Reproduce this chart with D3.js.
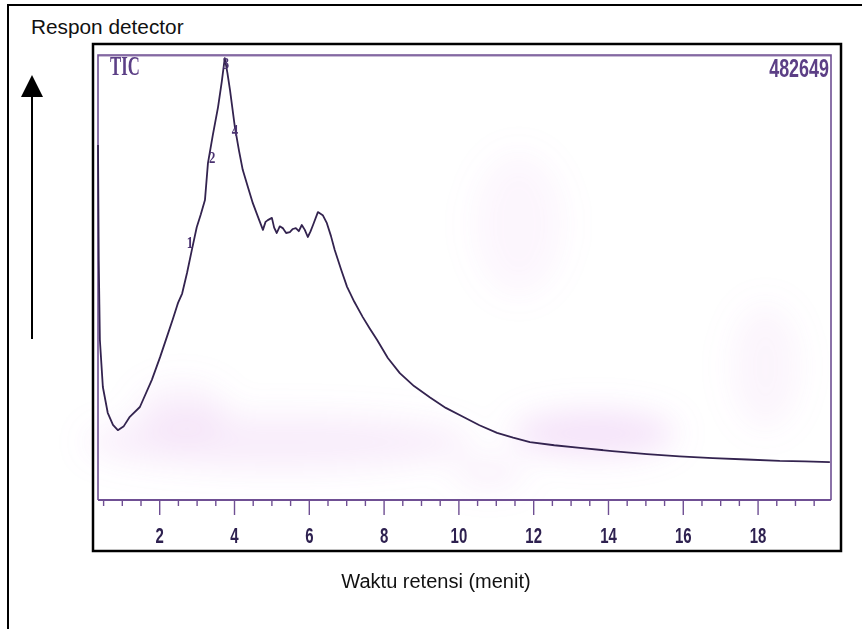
<!DOCTYPE html>
<html>
<head>
<meta charset="utf-8">
<script src="https://cdn.jsdelivr.net/npm/d3@7"></script>
<style>
  html, body { margin: 0; padding: 0; background: #fff; }
  svg { display: block; }
</style>
</head>
<body>
<div id="chart"></div>
<script>
// retention time (minutes) and detector response (% of full scale)
const times = [0.35, 0.37, 0.40, 0.48, 0.61, 0.75, 0.88, 1.04, 1.20, 1.47, 1.79, 2.01, 2.19, 2.35,
    2.49, 2.60, 2.73, 2.86, 2.99, 3.10, 3.21, 3.29, 3.42, 3.56, 3.66, 3.74, 3.81, 3.88, 4.01, 4.12,
    4.22, 4.36, 4.49, 4.62, 4.76, 4.83, 4.89, 5.00, 5.06, 5.13, 5.21, 5.29, 5.38, 5.48, 5.56, 5.64,
    5.72, 5.80, 5.88, 5.96, 6.03, 6.10, 6.23, 6.36, 6.47, 6.58, 6.68, 6.85, 7.01, 7.20, 7.43, 7.62,
    7.81, 8.10, 8.42, 8.80, 9.22, 9.65, 10.11, 10.55, 11.02, 11.45, 11.90, 12.55, 13.24, 14.10,
    15.03, 15.90, 16.79, 17.70, 18.58, 19.25, 19.92];
const response = [79.8, 53.9, 36.0, 25.4, 19.6, 16.9, 15.7, 16.6, 18.7, 20.9, 27.0, 32.1, 36.6, 40.6,
    44.3, 46.4, 51.0, 56.2, 61.3, 64.2, 67.4, 75.7, 82.0, 88.3, 94.0, 99.3, 96.0, 92.1, 83.8, 78.5,
    74.2, 70.3, 66.7, 63.8, 60.7, 62.5, 62.9, 63.4, 61.2, 60.0, 61.5, 61.1, 60.0, 60.2, 60.9, 61.1,
    60.4, 61.8, 60.7, 59.1, 60.3, 61.8, 64.7, 64.0, 62.2, 59.3, 56.2, 51.8, 47.9, 44.6, 41.1, 38.5,
    36.0, 31.9, 28.5, 25.6, 23.1, 20.7, 18.7, 16.8, 15.1, 14.0, 13.0, 12.3, 11.7, 11.0,
    10.3, 9.8, 9.4, 9.1, 8.8, 8.7, 8.5];

// numbered peaks written on the trace
const peakNames = ['1', '2', '3', '4'];
const peakTimes = [2.81, 3.40, 3.77, 4.01];
const peakResponse = [57.8, 77.1, 98.2, 83.1];

const tickMinor = d3.range(0.5, 20, 0.5);
const tickMajor = [2, 4, 6, 8, 10, 12, 14, 16, 18];

// faint scan stains on the paper (time, response, half width, half height, opacity)
const stainTimes = [5.2, 13.6, 11.6, 18.2, 2.6, 10.8];
const stainResponse = [13, 15, 62, 30, 20, 6];
const stainWidth = [5.2, 2.2, 1.2, 0.9, 1.2, 1.0];
const stainHeight = [6, 5, 16, 14, 6, 3];
const stainOpacity = [0.16, 0.26, 0.08, 0.1, 0.14, 0.14];

const width = 862;
const height = 629;

const svg = d3.select('#chart')
    .append('svg')
    .attr('width', width)
    .attr('height', height);

const x = d3.scaleLinear().domain([0.35, 19.95]).range([98, 831]);
const y = d3.scaleLinear().domain([0, 100]).range([500, 55]);

const defs = svg.append('defs');
defs.append('filter')
    .attr('id', 'blur')
    .attr('x', '-50%').attr('y', '-50%')
    .attr('width', '200%').attr('height', '200%')
    .append('feGaussianBlur')
    .attr('stdDeviation', 16);

// outer frame (top and left only)
svg.append('path')
    .attr('d', `M8,${height}V5H${width}`)
    .attr('fill', 'none')
    .attr('stroke', '#000')
    .attr('stroke-width', 2);

svg.append('text')
    .attr('x', 31)
    .attr('y', 34)
    .attr('font-family', 'Liberation Sans, Arial, sans-serif')
    .attr('font-size', 20.8)
    .attr('fill', '#111')
    .text('Respon detector');

// vertical arrow
svg.append('line')
    .attr('x1', 32).attr('x2', 32)
    .attr('y1', 339).attr('y2', 95)
    .attr('stroke', '#000')
    .attr('stroke-width', 2);
svg.append('path')
    .attr('d', 'M32,75L43,97L21,97Z')
    .attr('fill', '#000');

// stains
svg.append('g')
    .attr('filter', 'url(#blur)')
    .selectAll('ellipse')
    .data(stainTimes.map((t, i) => ({ t, v: stainResponse[i], w: stainWidth[i], h: stainHeight[i], o: stainOpacity[i] })))
    .join('ellipse')
    .attr('cx', d => x(d.t))
    .attr('cy', d => y(d.v))
    .attr('rx', d => x(d.t + d.w) - x(d.t))
    .attr('ry', d => y(0) - y(d.h))
    .attr('fill', '#d58fe6')
    .attr('opacity', d => d.o);

// purple chart frame from the recorder
const frameColor = '#6f4f93';
svg.append('path')
    .attr('d', `M${x(0.35)},${y(0)}V${y(100)}H${x(19.95)}V${y(0)}`)
    .attr('fill', 'none')
    .attr('stroke', frameColor)
    .attr('stroke-width', 1.6);
svg.append('line')
    .attr('x1', x(0.35)).attr('x2', x(19.95))
    .attr('y1', y(100) + 1).attr('y2', y(100) + 1)
    .attr('stroke', frameColor)
    .attr('stroke-opacity', 0.5)
    .attr('stroke-width', 1.5);

// time axis
const axisG = svg.append('g')
    .attr('transform', `translate(0,${y(0)})`);
axisG.append('line')
    .attr('x1', x(0.35)).attr('x2', x(19.95))
    .attr('stroke', frameColor)
    .attr('stroke-width', 1.8);
axisG.selectAll('line.minor')
    .data(tickMinor.filter(t => !tickMajor.includes(t)))
    .join('line')
    .attr('class', 'minor')
    .attr('x1', d => x(d)).attr('x2', d => x(d))
    .attr('y1', 0).attr('y2', 6)
    .attr('stroke', frameColor)
    .attr('stroke-width', 1.4);
axisG.selectAll('line.major')
    .data(tickMajor)
    .join('line')
    .attr('class', 'major')
    .attr('x1', d => x(d)).attr('x2', d => x(d))
    .attr('y1', 0).attr('y2', 15)
    .attr('stroke', frameColor)
    .attr('stroke-width', 1.4);
axisG.selectAll('text')
    .data(tickMajor)
    .join('text')
    .attr('transform', d => `translate(${x(d)},43) scale(0.68,1)`)
    .attr('text-anchor', 'middle')
    .attr('font-family', 'Liberation Sans, Arial, sans-serif')
    .attr('font-weight', 'bold')
    .attr('font-size', 22)
    .attr('fill', '#2e2150')
    .text(d => d);

// header texts of the recorder paper
svg.append('text')
    .attr('transform', `translate(${x(0.35) + 12},${y(100) + 20}) scale(0.62,1)`)
    .attr('font-family', 'Liberation Serif, Times New Roman, serif')
    .attr('font-weight', 'bold')
    .attr('font-size', 27)
    .attr('fill', '#5c3f86')
    .text('TIC');
svg.append('text')
    .attr('transform', `translate(${x(19.95) - 2},${y(100) + 22}) scale(0.69,1)`)
    .attr('text-anchor', 'end')
    .attr('font-family', 'Liberation Sans, Arial, sans-serif')
    .attr('font-weight', 'bold')
    .attr('font-size', 26)
    .attr('fill', '#5c3f86')
    .text('482649');

// chromatogram trace
const line = d3.line()
    .x((d, i) => x(times[i]))
    .y(d => y(d));
svg.append('path')
    .datum(response)
    .attr('d', line)
    .attr('fill', 'none')
    .attr('stroke', '#33234f')
    .attr('stroke-width', 1.8)
    .attr('stroke-linejoin', 'round');

// peak numbers
svg.append('g')
    .selectAll('text')
    .data(peakNames)
    .join('text')
    .attr('transform', (d, i) => `translate(${x(peakTimes[i])},${y(peakResponse[i])}) scale(0.75,1)`)
    .attr('text-anchor', 'middle')
    .attr('dominant-baseline', 'central')
    .attr('font-family', 'Liberation Serif, Times New Roman, serif')
    .attr('font-weight', 'bold')
    .attr('font-size', 17)
    .attr('fill', '#4a3270')
    .text(d => d);

// inner black frame
svg.append('rect')
    .attr('x', 93).attr('y', 44)
    .attr('width', 748).attr('height', 507)
    .attr('fill', 'none')
    .attr('stroke', '#000')
    .attr('stroke-width', 2.5);

svg.append('text')
    .attr('x', 436)
    .attr('y', 588)
    .attr('text-anchor', 'middle')
    .attr('font-family', 'Liberation Sans, Arial, sans-serif')
    .attr('font-size', 20)
    .attr('fill', '#111')
    .text('Waktu retensi (menit)');
</script>
</body>
</html>
